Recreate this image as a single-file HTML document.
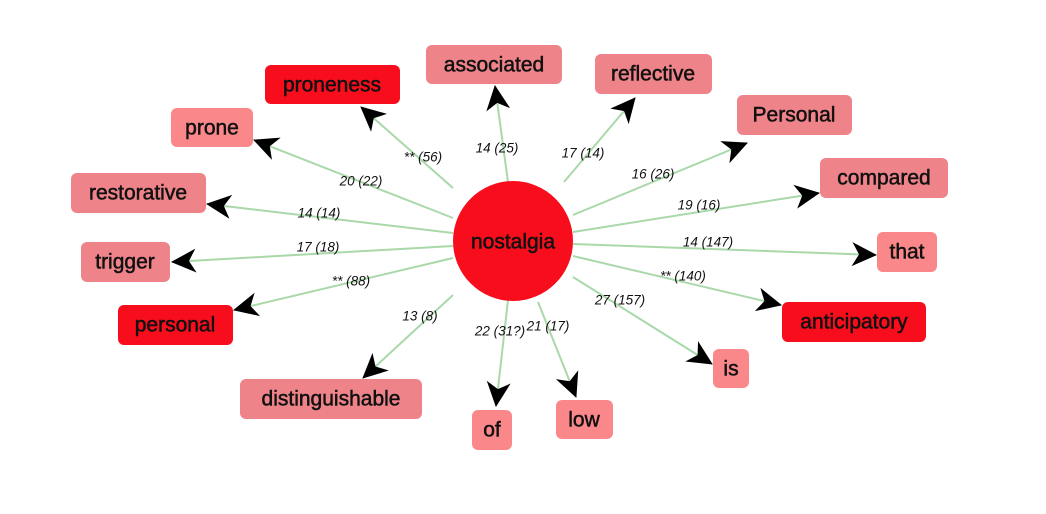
<!DOCTYPE html>
<html><head><meta charset="utf-8"><style>
html,body{margin:0;padding:0;background:#fff;}
svg{display:block;}
.n{font-family:"Liberation Sans",sans-serif;font-size:21px;fill:#111;stroke:#111;stroke-width:0.5;text-anchor:middle;dominant-baseline:central;}
.l{font-family:"Liberation Sans",sans-serif;font-size:13.5px;font-style:italic;fill:#111;text-anchor:middle;dominant-baseline:central;}
line{stroke:#a9d8a9;stroke-width:2;}
</style></head><body>
<svg width="1046" height="514" viewBox="0 0 1046 514" xmlns="http://www.w3.org/2000/svg">
<defs>
<marker id="a" markerWidth="26" markerHeight="26" refX="24" refY="13" orient="auto" markerUnits="userSpaceOnUse">
<path d="M0,1 L25,13 L0,25 L7,13 Z" fill="#000"/>
</marker>
</defs>
<g>
<line x1="508" y1="182" x2="495" y2="86" marker-end="url(#a)"/>
<line x1="453" y1="188" x2="361" y2="107" marker-end="url(#a)"/>
<line x1="453" y1="218" x2="254" y2="140" marker-end="url(#a)"/>
<line x1="453" y1="233" x2="207" y2="204" marker-end="url(#a)"/>
<line x1="453" y1="246" x2="172" y2="262" marker-end="url(#a)"/>
<line x1="453" y1="258" x2="234" y2="310" marker-end="url(#a)"/>
<line x1="453" y1="295" x2="363" y2="378" marker-end="url(#a)"/>
<line x1="508" y1="300" x2="496" y2="406" marker-end="url(#a)"/>
<line x1="538" y1="302" x2="576" y2="397" marker-end="url(#a)"/>
<line x1="573" y1="277" x2="712" y2="364" marker-end="url(#a)"/>
<line x1="573" y1="256" x2="781" y2="305" marker-end="url(#a)"/>
<line x1="573" y1="244" x2="876" y2="255" marker-end="url(#a)"/>
<line x1="573" y1="232" x2="819" y2="193" marker-end="url(#a)"/>
<line x1="573" y1="215" x2="747" y2="143" marker-end="url(#a)"/>
<line x1="564" y1="182" x2="635" y2="98" marker-end="url(#a)"/>
</g>
<circle cx="513" cy="241" r="60" fill="#f80d1c"/>
<text class="n" x="513" y="242">nostalgia</text>

<g>
<rect x="426" y="45" width="136" height="39" rx="6" fill="#ee8389"/><text class="n" x="494" y="65">associated</text>
<rect x="265" y="65" width="135" height="39" rx="6" fill="#f80d1c"/><text class="n" x="332" y="85">proneness</text>
<rect x="171" y="108" width="82" height="39" rx="6" fill="#fa888a"/><text class="n" x="212" y="128">prone</text>
<rect x="71" y="173" width="135" height="40" rx="6" fill="#ee8389"/><text class="n" x="138" y="193">restorative</text>
<rect x="81" y="242" width="89" height="40" rx="6" fill="#ee8389"/><text class="n" x="125" y="262">trigger</text>
<rect x="118" y="305" width="115" height="40" rx="6" fill="#f80d1c"/><text class="n" x="175" y="325">personal</text>
<rect x="240" y="379" width="182" height="40" rx="6" fill="#ee8389"/><text class="n" x="331" y="399">distinguishable</text>
<rect x="472" y="410" width="40" height="40" rx="6" fill="#fa888a"/><text class="n" x="492" y="430">of</text>
<rect x="556" y="400" width="57" height="39" rx="6" fill="#fa888a"/><text class="n" x="584" y="420">low</text>
<rect x="713" y="349" width="36" height="39" rx="6" fill="#fa888a"/><text class="n" x="731" y="369">is</text>
<rect x="782" y="302" width="144" height="40" rx="6" fill="#f80d1c"/><text class="n" x="854" y="322">anticipatory</text>
<rect x="877" y="232" width="60" height="40" rx="6" fill="#fa888a"/><text class="n" x="907" y="252">that</text>
<rect x="820" y="158" width="128" height="40" rx="6" fill="#ee8389"/><text class="n" x="884" y="178">compared</text>
<rect x="737" y="95" width="115" height="40" rx="6" fill="#ee8389"/><text class="n" x="794" y="115">Personal</text>
<rect x="595" y="54" width="117" height="40" rx="6" fill="#ee8389"/><text class="n" x="653" y="74">reflective</text>
</g>

<g>
<text class="l" x="423" y="157">** (56)</text>
<text class="l" x="497" y="148">14 (25)</text>
<text class="l" x="583" y="153">17 (14)</text>
<text class="l" x="361" y="181">20 (22)</text>
<text class="l" x="653" y="174">16 (26)</text>
<text class="l" x="319" y="213">14 (14)</text>
<text class="l" x="699" y="205">19 (16)</text>
<text class="l" x="318" y="247">17 (18)</text>
<text class="l" x="708" y="242">14 (147)</text>
<text class="l" x="351" y="281">** (88)</text>
<text class="l" x="683" y="276">** (140)</text>
<text class="l" x="420" y="316">13 (8)</text>
<text class="l" x="620" y="300">27 (157)</text>
<text class="l" x="500" y="331">22 (31?)</text>
<text class="l" x="548" y="326">21 (17)</text>
</g>
</svg>
</body></html>
